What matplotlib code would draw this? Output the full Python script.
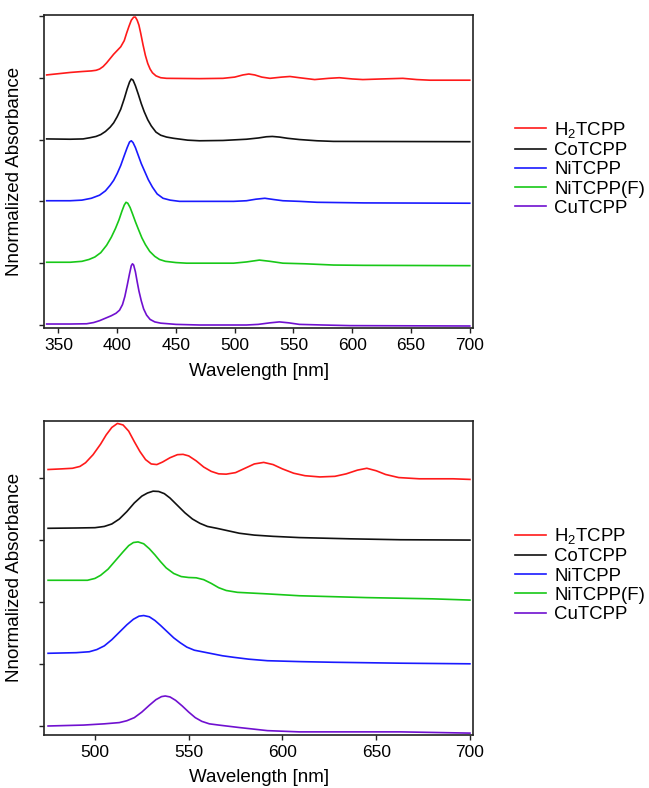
import matplotlib
matplotlib.use("Agg")
import matplotlib.pyplot as plt

plt.rcParams['font.family'] = ['Liberation Sans', 'DejaVu Sans']
plt.rcParams['mathtext.fontset'] = 'custom'
plt.rcParams['mathtext.rm'] = 'Liberation Sans'
plt.rcParams['mathtext.it'] = 'Liberation Sans:italic'

labels = ["H$_\\mathrm{2}$TCPP", "CoTCPP", "NiTCPP", "NiTCPP(F)", "CuTCPP"]
colors = {"H2": "#ff1a1a", "Co": "#111111", "Ni": "#1a1aff", "NiF": "#18c818", "Cu": "#7010d0"}

# ---- Top panel: full spectra (offset, normalized) ----
top_h2_wl = [340, 350, 360, 370, 378, 382, 385, 388, 391, 394, 397, 400, 403, 406, 408, 410, 412, 414, 415.5, 417, 418.5, 420, 422, 424, 426, 428, 430, 433, 437, 442, 470, 490, 500, 507, 512, 517, 523, 530, 540, 547, 555, 568, 580, 589, 600, 609, 625, 643, 655, 666, 700]
top_h2_v = [4.045, 4.065, 4.085, 4.10, 4.11, 4.12, 4.14, 4.18, 4.24, 4.31, 4.38, 4.44, 4.50, 4.60, 4.72, 4.83, 4.93, 4.98, 4.98, 4.93, 4.85, 4.72, 4.53, 4.36, 4.23, 4.14, 4.08, 4.03, 4.00, 3.99, 3.985, 3.99, 4.01, 4.045, 4.06, 4.045, 4.01, 3.99, 4.01, 4.02, 4.0, 3.97, 3.99, 4.0, 3.98, 3.97, 3.98, 3.99, 3.97, 3.96, 3.96]

top_co_wl = [340, 360, 371, 377, 382, 386, 390, 394, 397, 400, 403, 406, 408.5, 410.5, 412, 413.5, 415.5, 418, 420.5, 423, 426, 429, 433, 437, 442, 448, 460, 470, 490, 510, 520, 527, 532, 538, 545, 555, 570, 584, 700]
top_co_v = [3.01, 3.005, 3.01, 3.03, 3.05, 3.08, 3.13, 3.20, 3.27, 3.37, 3.49, 3.66, 3.82, 3.93, 3.98, 3.96, 3.87, 3.73, 3.58, 3.45, 3.32, 3.22, 3.12, 3.07, 3.04, 3.02, 2.99, 2.98, 2.985, 3.005, 3.025, 3.045, 3.05, 3.04, 3.02, 3.0, 2.98, 2.97, 2.965]

top_ni_wl = [340, 360, 370, 378, 385, 390, 394, 397, 400, 403, 406, 408.5, 410.5, 412, 413.5, 415.5, 418, 420.5, 423.5, 426.5, 430, 434, 439, 445, 453, 499, 510, 518, 525.6, 533, 541, 555, 570, 610, 700]
top_ni_v = [2.01, 2.01, 2.02, 2.05, 2.10, 2.17, 2.26, 2.34, 2.45, 2.58, 2.74, 2.87, 2.96, 2.98, 2.95, 2.87, 2.74, 2.61, 2.48, 2.35, 2.23, 2.12, 2.05, 2.02, 2.0, 2.0, 2.01, 2.035, 2.05, 2.03, 2.01, 2.0, 1.985, 1.975, 1.97]

top_nif_wl = [340, 360, 370, 376, 381, 386, 391, 395, 398.5, 401.5, 404, 406, 407.5, 409, 411, 413, 415.5, 418, 421, 424, 427.7, 432, 436, 441, 450, 459, 499, 510, 521, 530, 541, 560, 584, 610, 700]
top_nif_v = [1.015, 1.015, 1.03, 1.06, 1.10, 1.17, 1.29, 1.42, 1.56, 1.70, 1.84, 1.94, 1.985, 1.97, 1.90, 1.80, 1.67, 1.55, 1.41, 1.30, 1.19, 1.11, 1.06, 1.03, 1.01, 1.0, 1.0, 1.02, 1.05, 1.03, 1.0, 0.99, 0.97, 0.965, 0.96]

top_cu_wl = [340, 360, 374, 380, 385, 390, 395, 399, 402, 404.5, 406.5, 408.5, 410.5, 412, 413, 414, 415.5, 417, 418.5, 420.5, 422.5, 425, 428, 432, 437, 450, 470, 510, 520, 530, 538, 546, 555, 575, 598, 700]
top_cu_v = [0.016, 0.016, 0.02, 0.04, 0.07, 0.11, 0.15, 0.19, 0.24, 0.33, 0.46, 0.64, 0.83, 0.96, 0.99, 0.97, 0.86, 0.70, 0.55, 0.39, 0.26, 0.16, 0.09, 0.05, 0.03, 0.01, 0.0, 0.0, 0.01, 0.035, 0.05, 0.035, 0.01, 0.0, -0.01, -0.016]

# ---- Bottom panel: Q-band region ----
bot_h2_wl = [475, 482, 488, 492, 495, 499, 503, 506, 509, 512, 515, 518, 521, 524, 527, 530, 533, 536, 540, 544, 547, 550, 554, 558, 562, 566, 570, 575, 580, 585, 590, 595, 600, 606, 612, 620, 628, 634, 640, 645, 650, 655, 662, 673, 691, 700]
bot_h2_v = [4.14, 4.15, 4.16, 4.19, 4.25, 4.38, 4.55, 4.70, 4.82, 4.885, 4.86, 4.76, 4.59, 4.43, 4.30, 4.23, 4.22, 4.26, 4.33, 4.38, 4.385, 4.36, 4.28, 4.18, 4.11, 4.07, 4.065, 4.09, 4.16, 4.23, 4.255, 4.22, 4.15, 4.08, 4.04, 4.02, 4.03, 4.07, 4.13, 4.16, 4.12, 4.06, 4.01, 3.99, 3.99, 3.98]

bot_co_wl = [475, 490, 500, 505, 509, 513, 517, 521, 525, 528, 531, 534, 537, 540, 544, 548, 552, 556, 560, 565, 571, 577, 585, 595, 609, 636, 663, 700]
bot_co_v = [3.19, 3.195, 3.20, 3.22, 3.26, 3.34, 3.46, 3.60, 3.71, 3.76, 3.79, 3.785, 3.75, 3.68, 3.56, 3.44, 3.34, 3.27, 3.22, 3.19, 3.15, 3.11, 3.08, 3.06, 3.04, 3.02, 3.005, 3.0]

bot_nif_wl = [475, 496, 500, 503, 507, 511, 515, 518, 520.5, 523, 526, 529, 532, 535, 538, 542, 546, 550, 554, 558, 562, 566, 570, 576, 592, 609, 645, 680, 700]
bot_nif_v = [2.35, 2.35, 2.38, 2.43, 2.53, 2.67, 2.81, 2.91, 2.96, 2.97, 2.94, 2.86, 2.76, 2.65, 2.55, 2.46, 2.41, 2.395, 2.39, 2.36, 2.30, 2.23, 2.185, 2.155, 2.13, 2.10, 2.07, 2.05, 2.03]

bot_ni_wl = [475, 490, 497, 501, 505, 509, 513, 517, 520.5, 523.5, 526, 529, 532, 535, 538.5, 542, 545.5, 549, 553, 558, 563, 568, 574, 582, 592, 610, 627, 663, 700]
bot_ni_v = [1.17, 1.18, 1.195, 1.23, 1.29, 1.39, 1.51, 1.63, 1.72, 1.77, 1.78, 1.76, 1.70, 1.62, 1.52, 1.42, 1.34, 1.27, 1.22, 1.19, 1.16, 1.13, 1.105, 1.075, 1.05, 1.035, 1.025, 1.01, 1.0]

bot_cu_wl = [475, 494, 505, 513, 517, 521, 525, 529, 532.5, 535.5, 537.5, 540, 543, 546.5, 550, 553.5, 557, 561, 566, 577, 592, 609, 663, 700]
bot_cu_v = [-0.005, 0.01, 0.03, 0.05, 0.08, 0.13, 0.22, 0.33, 0.42, 0.47, 0.48, 0.465, 0.41, 0.32, 0.22, 0.13, 0.07, 0.03, 0.01, -0.03, -0.08, -0.10, -0.10, -0.12]

top_xticks = [350, 400, 450, 500, 550, 600, 650, 700]
bot_xticks = [500, 550, 600, 650, 700]

fig = plt.figure(figsize=(6.49, 7.88), dpi=100)
ax1 = fig.add_axes([0.0683, 0.5834, 0.661, 0.398])
ax2 = fig.add_axes([0.0683, 0.0673, 0.661, 0.3989])

lw = 1.2
ax1.plot(top_h2_wl, top_h2_v, color=colors["H2"], lw=lw, label=labels[0])
ax1.plot(top_co_wl, top_co_v, color=colors["Co"], lw=lw, label=labels[1])
ax1.plot(top_ni_wl, top_ni_v, color=colors["Ni"], lw=lw, label=labels[2])
ax1.plot(top_nif_wl, top_nif_v, color=colors["NiF"], lw=lw, label=labels[3])
ax1.plot(top_cu_wl, top_cu_v, color=colors["Cu"], lw=lw, label=labels[4])
ax1.set_xlim(338, 703)
ax1.set_ylim(-0.053, 5.02)
ax1.set_xticks(top_xticks)
ax1.set_yticks([0, 1, 2, 3, 4, 5])

ax2.plot(bot_h2_wl, bot_h2_v, color=colors["H2"], lw=lw, label=labels[0])
ax2.plot(bot_co_wl, bot_co_v, color=colors["Co"], lw=lw, label=labels[1])
ax2.plot(bot_ni_wl, bot_ni_v, color=colors["Ni"], lw=lw, label=labels[2])
ax2.plot(bot_nif_wl, bot_nif_v, color=colors["NiF"], lw=lw, label=labels[3])
ax2.plot(bot_cu_wl, bot_cu_v, color=colors["Cu"], lw=lw, label=labels[4])
ax2.set_xlim(473, 701.8)
ax2.set_ylim(-0.15, 4.93)
ax2.set_xticks(bot_xticks)
ax2.set_yticks([0, 1, 2, 3, 4])

for ax in (ax1, ax2):
    for sp in ax.spines.values():
        sp.set_linewidth(1.2)
        sp.set_color("#222222")
    ax.tick_params(direction='out', length=3.5, width=1.0, labelsize=12.5, color="#222222")
    ax.set_yticklabels([])
    ax.set_xlabel("Wavelength [nm]", fontsize=13.5, labelpad=7)
    ax.set_ylabel("Nnormalized Absorbance", fontsize=13.5, labelpad=8)
    ax.legend(loc='center left', bbox_to_anchor=(1.097, 0.51), frameon=False,
              fontsize=13.4, handlelength=1.65, handletextpad=0.45,
              labelspacing=0.12, borderpad=0, borderaxespad=0)

fig.savefig("out.png", dpi=100)
